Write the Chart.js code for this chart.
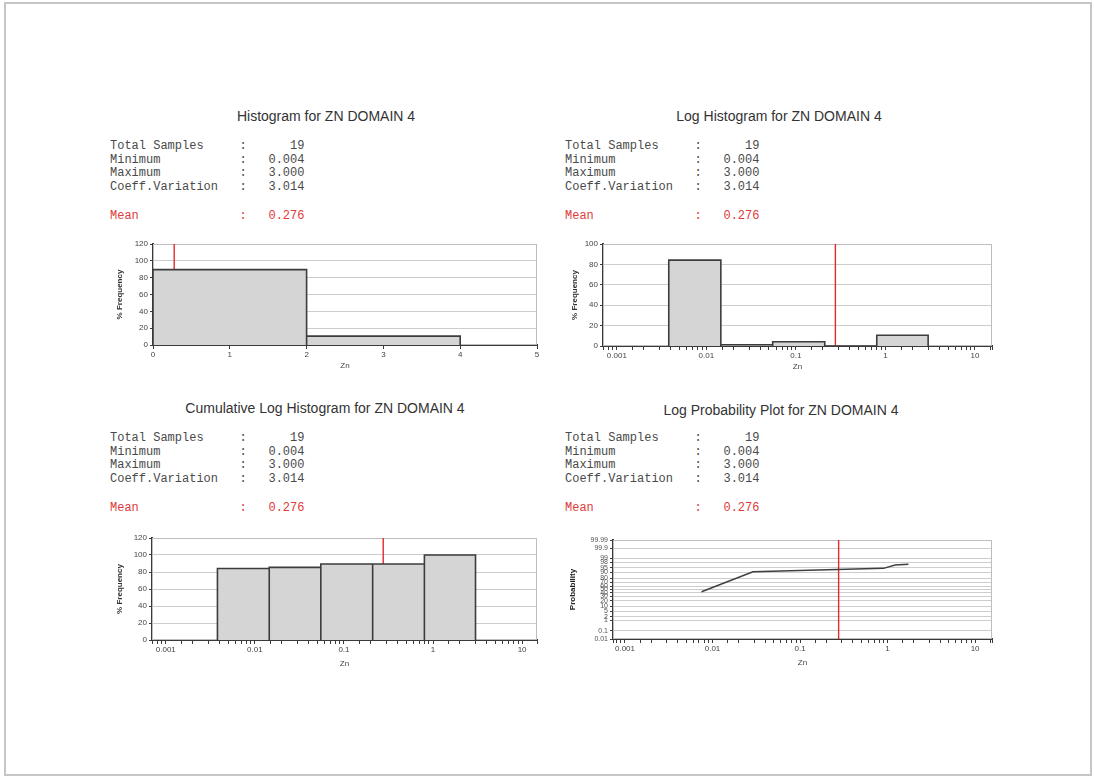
<!DOCTYPE html>
<html>
<head>
<meta charset="utf-8">
<script src="https://cdn.jsdelivr.net/npm/chart.js@4.4.1/dist/chart.umd.min.js"></script>
<style>
  html, body { margin: 0; padding: 0; background: #fff; }
  body { width: 1094px; height: 778px; position: relative; overflow: hidden;
         font-family: "Liberation Sans", Arial, sans-serif; }
  #frame { position: absolute; left: 4px; top: 2px; width: 1088px; height: 774px;
           border: 2px solid #c6c6c6; box-sizing: border-box; }
  .title { position: absolute; width: 440px; text-align: center; white-space: nowrap;
           font-size: 14px; line-height: 16px; color: #333; }
  .stats { position: absolute; margin: 0; white-space: pre;
           font-family: "Liberation Mono", "Courier New", monospace;
           font-size: 12px; line-height: 13.5px; color: #4a4a4a; }
  .stats.mean { color: #e03a3a; }
  canvas { position: absolute; }
</style>
</head>
<body>
<div id="frame"></div>
<canvas id="c1" width="445" height="139" style="left:100px;top:236px"></canvas>
<canvas id="c2" width="450" height="140" style="left:550px;top:236px"></canvas>
<canvas id="c3" width="445" height="140" style="left:100px;top:530px"></canvas>
<canvas id="c4" width="450" height="138" style="left:550px;top:532px"></canvas>
<script>
// ---- summary statistics (same sample set for all four plots) ----
const domainName = 'ZN DOMAIN 4';
const statLabels = ['Total Samples', 'Minimum', 'Maximum', 'Coeff.Variation'];
const statValues = ['19', '0.004', '3.000', '3.014'];
const meanLabel = 'Mean';
const meanValue = 0.276;

const plotTitles = [
  'Histogram for ' + domainName,
  'Log Histogram for ' + domainName,
  'Cumulative Log Histogram for ' + domainName,
  'Log Probability Plot for ' + domainName
];
const variableName = 'Zn';
const freqAxisTitle = '% Frequency';
const probAxisTitle = 'Probability';

// ---- linear histogram ----
const linBinEdges = [0, 2, 4];
const linFrequency = [89.5, 10.5];

// ---- log histogram bins (shared by the cumulative plot) ----
const logBinEdges = [0.0038, 0.0145, 0.055, 0.21, 0.8, 3.0];
const logFrequency = [84.2, 1.2, 4.1, 0, 10.5];
const cumFrequency = [84.2, 85.4, 89.5, 89.5, 100];

// ---- log probability curve ----
const probZn = [0.0075, 0.029, 0.077, 0.9, 1.22, 1.73];
const probPercent = [43.4, 90.9, 92.1, 94.4, 96.7, 97.1];

// ---- tick labels ----
const logTickLabels = { '-3': '0.001', '-2': '0.01', '-1': '0.1', '0': '1', '1': '10' };
const probTickValues = [0.01, 0.1, 1, 2, 5, 10, 20, 30, 40, 50, 60, 70, 80, 90, 95, 98, 99, 99.9, 99.99];
const probTickLabels = ['0.01', '0.1', '1', '2', '5', '10', '20', '30', '40', '50', '60', '70', '80', '90', '95', '98', '99', '99.9', '99.99'];

// ---- text blocks ----
const panelText = [
  { tx: 326, ty: 108, sx: 110, sy: 140, my: 210 },
  { tx: 779, ty: 108, sx: 565, sy: 140, my: 210 },
  { tx: 325, ty: 400, sx: 110, sy: 432, my: 502 },
  { tx: 781, ty: 402, sx: 565, sy: 432, my: 502 }
];
function statLine(label, value) {
  return label.padEnd(18) + ':' + String(value).padStart(8);
}
panelText.forEach((p, i) => {
  const t = document.createElement('div');
  t.className = 'title';
  t.style.left = (p.tx - 220) + 'px';
  t.style.top = p.ty + 'px';
  t.textContent = plotTitles[i];
  document.body.appendChild(t);

  const s = document.createElement('pre');
  s.className = 'stats';
  s.style.left = p.sx + 'px';
  s.style.top = p.sy + 'px';
  s.textContent = statLabels.map((l, k) => statLine(l, statValues[k])).join('\n');
  document.body.appendChild(s);

  const m = document.createElement('pre');
  m.className = 'stats mean';
  m.style.left = p.sx + 'px';
  m.style.top = p.my + 'px';
  m.textContent = statLine(meanLabel, meanValue.toFixed(3));
  document.body.appendChild(m);
});

// ---- helpers ----
// outline of adjacent histogram bars as one closed step path
function histogramPath(edges, freq) {
  const pts = [];
  freq.forEach((f, i) => {
    pts.push({ x: edges[i], y: 0 }, { x: edges[i], y: f },
             { x: edges[i + 1], y: f }, { x: edges[i + 1], y: 0 });
  });
  return pts;
}
// inverse standard normal CDF (Acklam), used for the probability axis
function probit(p) {
  const a = [-3.969683028665376e+01, 2.209460984245205e+02, -2.759285104469687e+02,
             1.383577518672690e+02, -3.066479806614716e+01, 2.506628277459239e+00];
  const b = [-5.447609879822406e+01, 1.615858368580409e+02, -1.556989798598866e+02,
             6.680131188771972e+01, -1.328068155288572e+01];
  const c = [-7.784894002430293e-03, -3.223964580411365e-01, -2.400758277161838e+00,
             -2.549732539343734e+00, 4.374664141464968e+00, 2.938163982698783e+00];
  const d = [7.784695709041462e-03, 3.224671290700398e-01, 2.445134137142996e+00,
             3.754408661907416e+00];
  const pl = 0.02425, ph = 1 - pl;
  let q, r;
  if (p < pl) {
    q = Math.sqrt(-2 * Math.log(p));
    return (((((c[0]*q+c[1])*q+c[2])*q+c[3])*q+c[4])*q+c[5]) / ((((d[0]*q+d[1])*q+d[2])*q+d[3])*q+1);
  }
  if (p <= ph) {
    q = p - 0.5; r = q * q;
    return (((((a[0]*r+a[1])*r+a[2])*r+a[3])*r+a[4])*r+a[5])*q / (((((b[0]*r+b[1])*r+b[2])*r+b[3])*r+b[4])*r+1);
  }
  q = Math.sqrt(-2 * Math.log(1 - p));
  return -(((((c[0]*q+c[1])*q+c[2])*q+c[3])*q+c[4])*q+c[5]) / ((((d[0]*q+d[1])*q+d[2])*q+d[3])*q+1);
}
function logLabel(v) {
  const e = Math.log10(v);
  const r = Math.round(e);
  return Math.abs(e - r) < 1e-6 && logTickLabels[String(r)] !== undefined ? logTickLabels[String(r)] : '';
}

// light frame round each plot area
const plotFrame = {
  id: 'plotFrame',
  beforeDatasetsDraw(chart) {
    const { ctx, chartArea: a } = chart;
    ctx.save();
    ctx.strokeStyle = '#bdbdbd';
    ctx.lineWidth = 1;
    ctx.strokeRect(a.left + 0.5, a.top + 0.5, a.width - 1, a.height - 1);
    ctx.restore();
  }
};

const BAR_FILL = '#d5d5d5';
const BAR_EDGE = '#3c3c3c';
const MEAN_RED = '#e52a2a';
const GRID = '#cdcdcd';
const AXIS = '#3a3a3a';
const TICK_FONT = { family: 'Liberation Sans', size: 8 };
const TITLE_FONT = { family: 'Liberation Sans', size: 8, weight: 'bold' };

function barSet(points) {
  return { type: 'scatter', data: points, showLine: true, pointRadius: 0,
           borderColor: BAR_EDGE, borderWidth: 1.6, backgroundColor: BAR_FILL,
           fill: 'origin', order: 0 };
}
function meanSet(top) {
  return { type: 'scatter', data: [{ x: meanValue, y: 0 }, { x: meanValue, y: top }],
           showLine: true, pointRadius: 0, borderColor: MEAN_RED, borderWidth: 1.4,
           fill: false, order: 1 };
}
function freqAxis(max, yWidth, titlePad) {
  return {
    type: 'linear', min: 0, max: max,
    ticks: { stepSize: 20, font: TICK_FONT, color: '#444', padding: 2 },
    grid: { color: GRID, tickColor: AXIS, tickLength: 3 },
    border: { color: AXIS, width: 2 },
    title: { display: true, text: freqAxisTitle, font: TITLE_FONT, color: '#333',
             padding: { top: titlePad, bottom: 0 } },
    afterFit: s => { s.width = yWidth; }
  };
}
function logXAxis(min, max, xHeight, titlePad) {
  return {
    type: 'logarithmic', min: min, max: max,
    ticks: { autoSkip: false, maxRotation: 0, font: TICK_FONT, color: '#444', padding: 1,
             callback: v => logLabel(v) },
    grid: { drawOnChartArea: false, tickColor: AXIS, tickLength: 4 },
    border: { color: AXIS, width: 2 },
    title: { display: true, text: variableName, font: { family: 'Liberation Sans', size: 8 },
             color: '#444', padding: { top: 0, bottom: titlePad } },
    afterFit: s => { s.height = xHeight; }
  };
}
function baseOptions(padTop, padRight) {
  return {
    responsive: false, animation: false, devicePixelRatio: 1,
    layout: { padding: { top: padTop, right: padRight, left: 0, bottom: 0 }, autoPadding: false },
    plugins: { legend: { display: false }, tooltip: { enabled: false } },
    elements: { line: { tension: 0 } }
  };
}

// 1. Histogram
new Chart(document.getElementById('c1'), {
  type: 'scatter',
  data: { datasets: [barSet(histogramPath(linBinEdges, linFrequency)), meanSet(120)] },
  options: Object.assign(baseOptions(8, 8), {
    scales: {
      x: {
        type: 'linear', min: 0, max: 5,
        ticks: { stepSize: 1, font: TICK_FONT, color: '#444', padding: 1, maxRotation: 0 },
        grid: { drawOnChartArea: false, tickColor: AXIS, tickLength: 4 },
        border: { color: AXIS, width: 2 },
        title: { display: true, text: variableName, font: { family: 'Liberation Sans', size: 8 },
                 color: '#444', padding: { top: 0, bottom: 4 } },
        afterFit: s => { s.height = 30; }
      },
      y: freqAxis(120, 53, 15)
    }
  }),
  plugins: [plotFrame]
});

// 2. Log histogram
new Chart(document.getElementById('c2'), {
  type: 'scatter',
  data: { datasets: [barSet(histogramPath(logBinEdges, logFrequency)), meanSet(100)] },
  options: Object.assign(baseOptions(8, 8), {
    scales: { x: logXAxis(0.0007, 15.5, 30, 4), y: freqAxis(100, 53, 20) }
  }),
  plugins: [plotFrame]
});

// 3. Cumulative log histogram
new Chart(document.getElementById('c3'), {
  type: 'scatter',
  data: { datasets: [barSet(histogramPath(logBinEdges, cumFrequency)), meanSet(120)] },
  options: Object.assign(baseOptions(8, 8), {
    scales: { x: logXAxis(0.0007, 14.7, 30, 1), y: freqAxis(120, 52, 15) }
  }),
  plugins: [plotFrame]
});

// 4. Log probability plot
const zMin = probit(probTickValues[0] / 100);
const zMax = probit(probTickValues[probTickValues.length - 1] / 100);
new Chart(document.getElementById('c4'), {
  type: 'scatter',
  data: {
    datasets: [
      { type: 'scatter', showLine: true, pointRadius: 0, borderColor: '#3f3f3f', borderWidth: 1.5,
        fill: false, order: 0,
        data: probZn.map((x, i) => ({ x: x, y: probit(probPercent[i] / 100) })) },
      { type: 'scatter', showLine: true, pointRadius: 0, borderColor: MEAN_RED, borderWidth: 1.4,
        fill: false, order: 1,
        data: [{ x: meanValue, y: zMin }, { x: meanValue, y: zMax }] }
    ]
  },
  options: Object.assign(baseOptions(8, 8), {
    scales: {
      x: logXAxis(0.00073, 15.6, 31, 2),
      y: {
        type: 'linear', min: zMin, max: zMax,
        afterBuildTicks: s => { s.ticks = probTickValues.map(p => ({ value: probit(p / 100) })); },
        ticks: { autoSkip: false, font: { family: 'Liberation Sans', size: 7 }, color: '#555', padding: 2,
                 callback: (v, i) => probTickLabels[i] },
        grid: { color: GRID, tickColor: AXIS, tickLength: 3 },
        border: { color: AXIS, width: 2 },
        title: { display: true, text: probAxisTitle, font: TITLE_FONT, color: '#222',
                 padding: { top: 18, bottom: 0 } },
        afterFit: s => { s.width = 63; }
      }
    }
  }),
  plugins: [plotFrame]
});
</script>
</body>
</html>
